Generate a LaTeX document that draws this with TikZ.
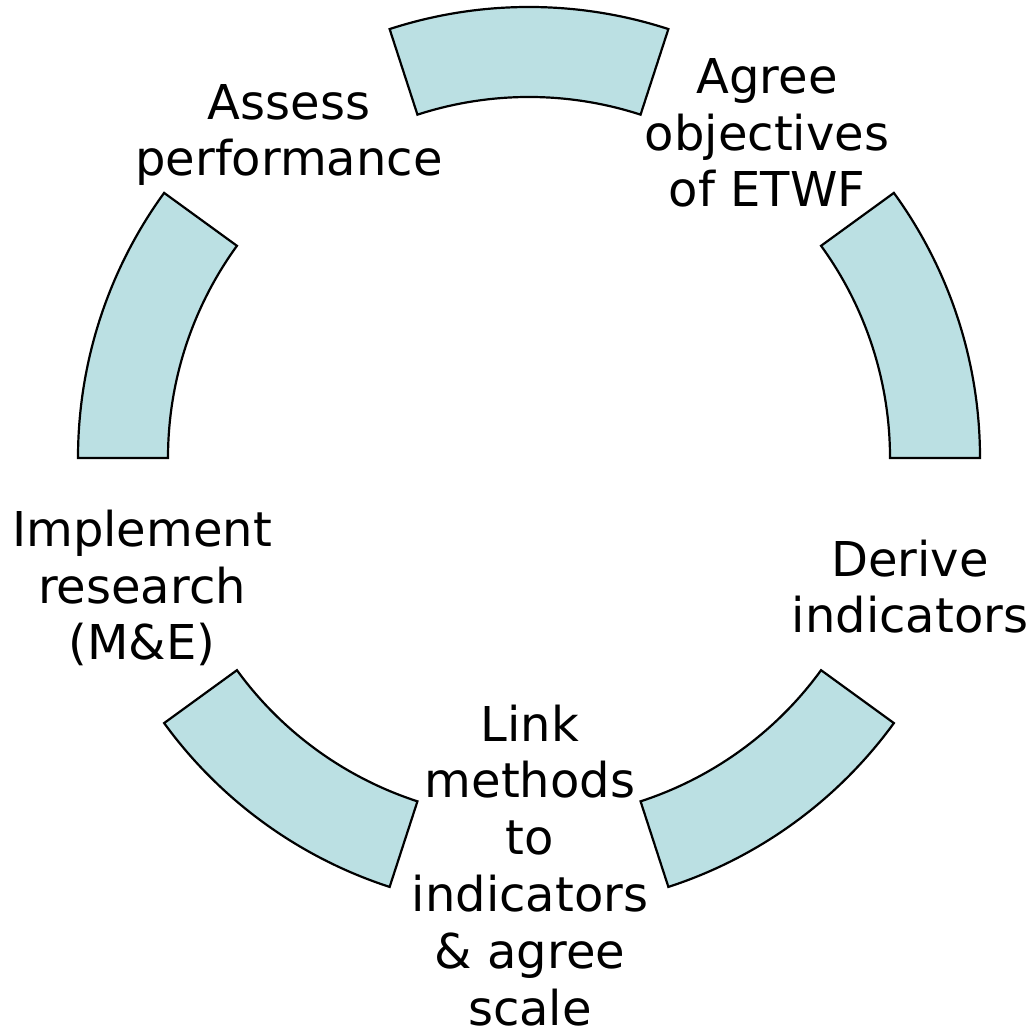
\documentclass[tikz,border=0pt]{standalone}
\usepackage{fontspec}
\setmainfont{DejaVu Sans}
\definecolor{arcfill}{RGB}{187,224,227}
\begin{document}
\begin{tikzpicture}[x=1pt,y=1pt,
  blockarc/.style={fill=arcfill,draw=black,line width=2.2pt,line join=miter},
  label/.style={align=center,anchor=base,inner sep=0pt,font=\fontsize{48pt}{56.8pt}\selectfont}]
\useasboundingbox (0,0) rectangle (1035,1033);
\coordinate (c) at (529,575);
\foreach \a in {0,72,144,216,288}{
  \draw[blockarc] ([shift={(c)}]\a:451) arc[start angle=\a, delta angle=36, radius=451]
    -- ([shift={(c)}]\a+36:361) arc[start angle=\a+36, delta angle=-36, radius=361] -- cycle;
}
\node[label] (agree) at (767,826) {Agree\\objectives\\of ETWF};
\node[label] (assess) at (289,857) {Assess\\performance};
\node[label] (impl) at (142,373) {Implement\\research\\(M\&E)};
\node[label] (derive) at (910,400) {Derive\\indicators};
\node[label] (link) at (530,8) {Link\\methods\\to\\indicators\\\& agree\\scale};
\end{tikzpicture}
\end{document}
